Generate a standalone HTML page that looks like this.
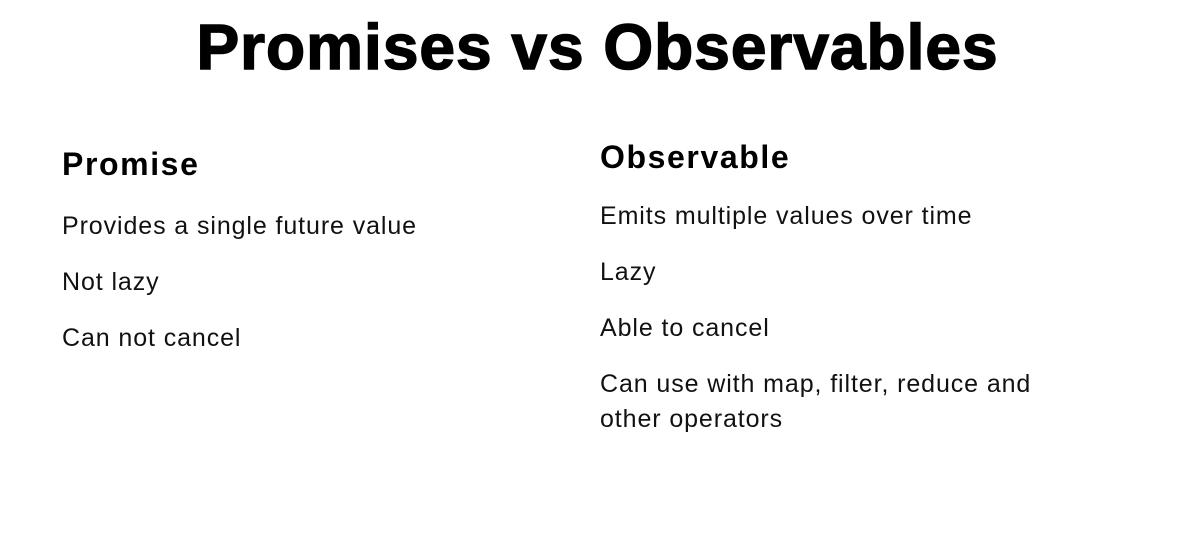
<!DOCTYPE html>
<html><head><meta charset="utf-8"><style>
body{margin:0;width:1195px;height:537px;background:#fff;overflow:hidden;position:relative;font-family:"Liberation Sans",sans-serif;color:#111}
.t{position:absolute;left:0;width:1195px;text-align:center;top:10px;font-size:64px;font-weight:900;letter-spacing:1px;-webkit-text-stroke:1.5px #000;color:#000}
.h{position:absolute;font-size:32px;font-weight:bold;color:#000;letter-spacing:1.6px}
.p{position:absolute;font-size:25px;line-height:35px;letter-spacing:0.9px}
</style></head><body>
<div class="t">Promises vs Observables</div>
<div class="h" style="left:62px;top:146px">Promise</div>
<div class="p" style="left:62px;top:209px">Provides a single future value</div>
<div class="p" style="left:62px;top:265px">Not lazy</div>
<div class="p" style="left:62px;top:321px">Can not cancel</div>
<div class="h" style="left:600px;top:139px">Observable</div>
<div class="p" style="left:600px;top:199px">Emits multiple values over time</div>
<div class="p" style="left:600px;top:255px">Lazy</div>
<div class="p" style="left:600px;top:311px">Able to cancel</div>
<div class="p" style="left:600px;top:367px">Can use with map, filter, reduce and<br>other operators</div>
</body></html>
